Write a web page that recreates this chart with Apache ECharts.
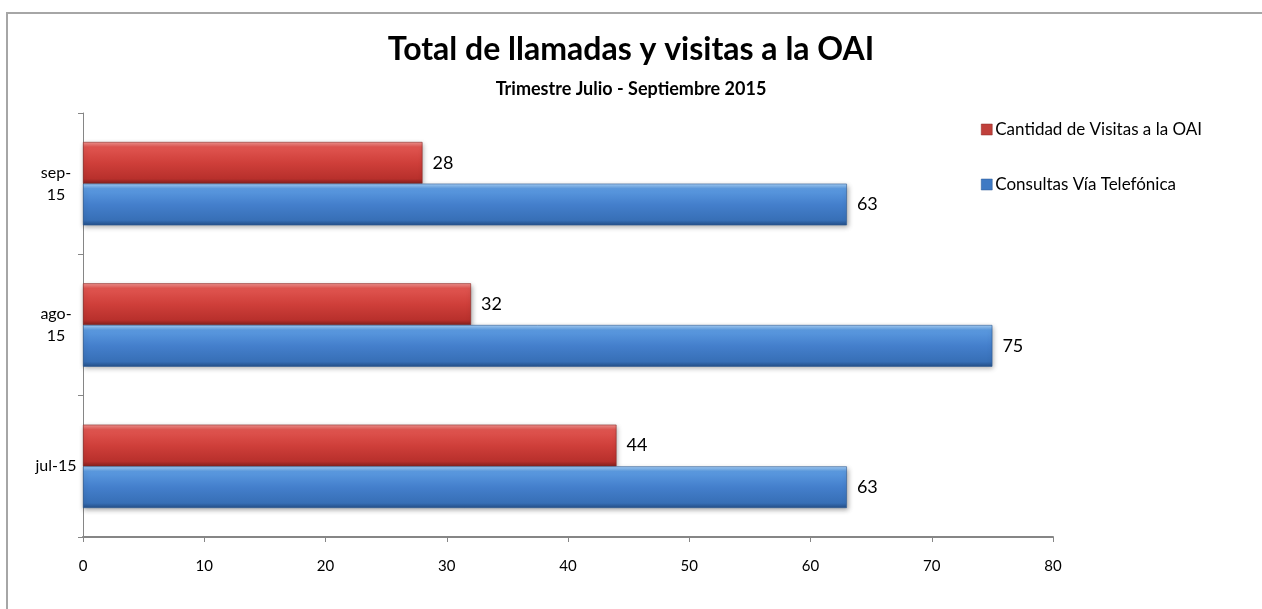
<!DOCTYPE html>
<html>
<head>
<meta charset="utf-8">
<script src="https://cdn.jsdelivr.net/npm/echarts@6/dist/echarts.min.js"></script>
<style>
html,body{margin:0;padding:0;background:#fff;}
#chart{width:1262px;height:609px;}
</style>
</head>
<body>
<div id="chart"></div>
<script>
const categories = ['jul-15', 'ago-15', 'sep-15'];
const categoryLabels = ['jul-15', 'ago-\n15', 'sep-\n15'];
const seriesVisitas = [44, 32, 28];
const seriesConsultas = [63, 75, 63];
const nameVisitas = 'Cantidad de Visitas a la OAI';
const nameConsultas = 'Consultas Vía Telefónica';
const titleText = 'Total de llamadas y visitas a la OAI';
const subtitleText = 'Trimestre Julio - Septiembre 2015';

const FONT = 'Lato, "Open Sans", sans-serif';

function grad(stops) {
  return new echarts.graphic.LinearGradient(0, 0, 0, 1, stops.map(c => ({offset: c[0], color: c[1]})));
}
const redGrad = grad([[0, '#f29490'], [0.12, '#e05550'], [0.5, '#cf3f3a'], [0.88, '#b8302c'], [1, '#8a2220']]);
const blueGrad = grad([[0, '#a6cff7'], [0.12, '#5b9ae0'], [0.5, '#447fcc'], [0.88, '#376fb6'], [1, '#244f88']]);

const chart = echarts.init(document.getElementById('chart'), null, {renderer: 'canvas'});
const labelStyle = {show: true, position: 'right', distance: 10, color: '#000', fontSize: 18, fontFamily: FONT};

chart.setOption({
  backgroundColor: '#fff',
  animation: false,
  title: [
    {text: titleText, left: 'center', top: 29, textStyle: {fontFamily: FONT, fontWeight: 'bold', fontSize: 32, color: '#000'}},
    {text: subtitleText, left: 'center', top: 75, textStyle: {fontFamily: FONT, fontWeight: 'bold', fontSize: 18, color: '#000'}}
  ],
  legend: {
    orient: 'vertical',
    left: 976,
    top: 116,
    itemGap: 38,
    itemWidth: 11,
    itemHeight: 11,
    icon: 'rect',
    data: [
      {name: nameVisitas, itemStyle: {color: '#c0403b', borderColor: '#8a2a27', borderWidth: 0.5}},
      {name: nameConsultas, itemStyle: {color: '#3f7ac4', borderColor: '#2d5a94', borderWidth: 0.5}}
    ],
    textStyle: {fontFamily: FONT, fontSize: 17, color: '#000', padding: [0, 0, 0, -2]}
  },
  grid: {left: 83, right: 209, top: 113, bottom: 72, containLabel: false},
  xAxis: {
    type: 'value',
    min: 0, max: 80, interval: 10,
    axisLine: {show: true, lineStyle: {color: '#868686', width: 2}},
    axisTick: {show: true, length: 5, lineStyle: {color: '#868686'}},
    splitLine: {show: false},
    axisLabel: {color: '#000', fontSize: 15, fontFamily: FONT, margin: 22}
  },
  yAxis: {
    type: 'category',
    data: categories,
    axisLine: {show: true, lineStyle: {color: '#868686', width: 1}},
    axisTick: {show: true, length: 5, inside: false, lineStyle: {color: '#868686'}},
    axisLabel: {
      color: '#000', fontSize: 16, fontFamily: FONT, align: 'center', margin: 27, lineHeight: 22,
      formatter: (v, i) => categoryLabels[i]
    }
  },
  series: [
    {
      name: nameVisitas, type: 'bar', data: seriesVisitas,
      barGap: '0%', barCategoryGap: '41%',
      itemStyle: {color: redGrad, borderColor: '#8a2a27', borderWidth: 0.6, shadowBlur: 5, shadowColor: 'rgba(0,0,0,0.35)', shadowOffsetY: 2, shadowOffsetX: 1},
      label: labelStyle
    },
    {
      name: nameConsultas, type: 'bar', data: seriesConsultas,
      barGap: '0%', barCategoryGap: '41%',
      itemStyle: {color: blueGrad, borderColor: '#2d5a94', borderWidth: 0.6, shadowBlur: 5, shadowColor: 'rgba(0,0,0,0.35)', shadowOffsetY: 2, shadowOffsetX: 1},
      label: labelStyle
    }
  ],
  graphic: [
    {type: 'rect', shape: {x: 7, y: 13, width: 1400, height: 800}, style: {fill: null, stroke: '#a6a6a6', lineWidth: 2}, silent: true}
  ]
});
</script>
</body>
</html>
